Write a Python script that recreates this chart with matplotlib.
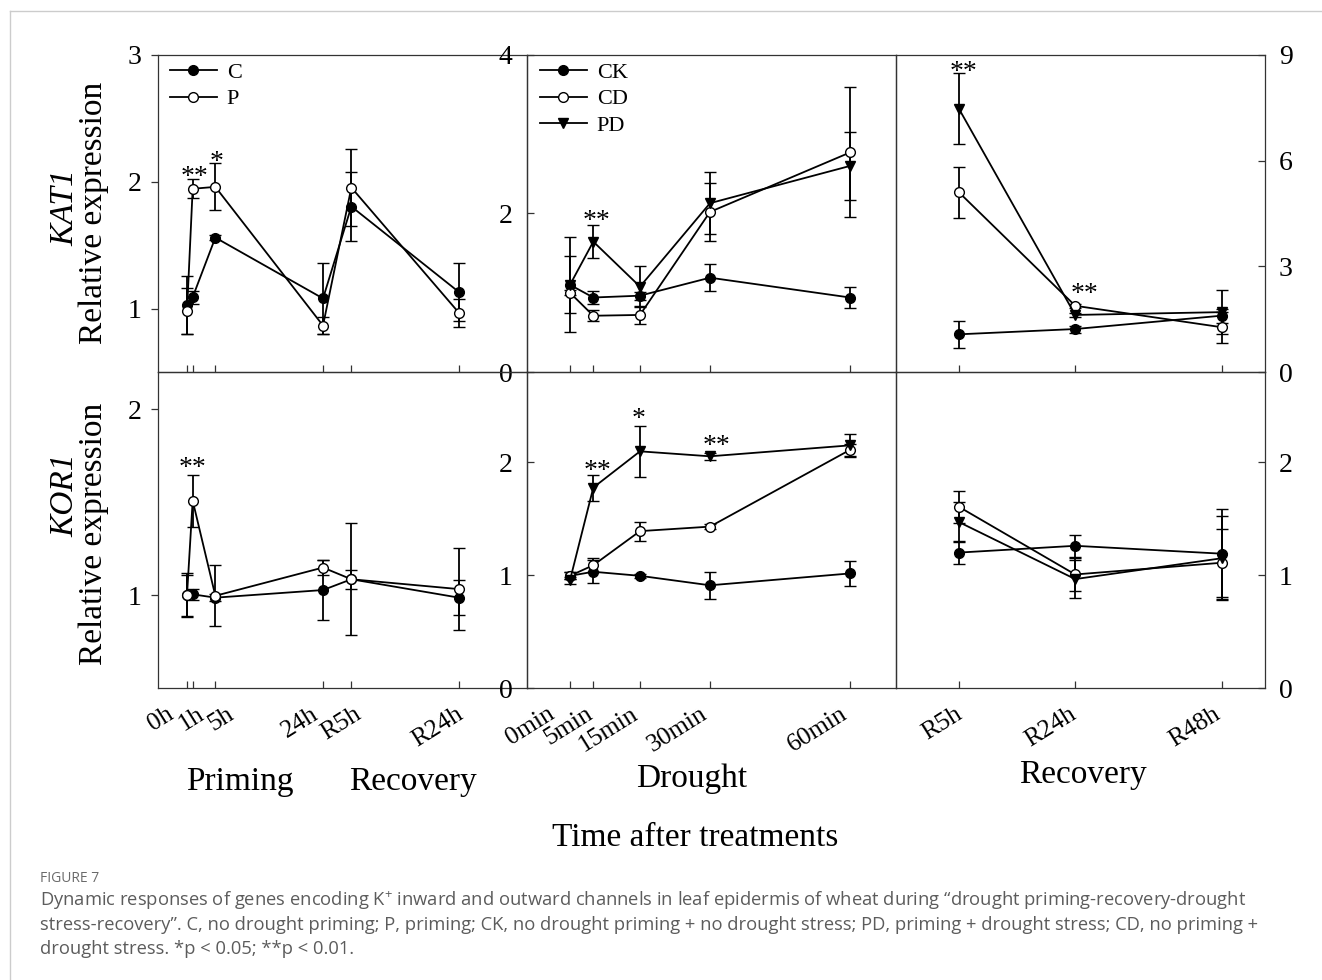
import matplotlib
matplotlib.use('Agg')
import matplotlib.pyplot as plt
from matplotlib.lines import Line2D
import matplotlib.transforms as mtransforms

plt.rcParams['font.family'] = ['Liberation Serif', 'DejaVu Serif']
plt.rcParams['mathtext.fontset'] = 'custom'
plt.rcParams['mathtext.rm'] = 'Open Sans'
plt.rcParams['mathtext.it'] = 'Open Sans:italic'

# ---------------- data ----------------
prime_x = [0, 1, 5, 24, 29, 48]
prime_labels = ['0h', '1h', '5h', '24h', 'R5h', 'R24h']
drought_x = [0, 5, 15, 30, 60]
drought_labels = ['0min', '5min', '15min', '30min', '60min']
recov_x = [5, 24, 48]
recov_labels = ['R5h', 'R24h', 'R48h']

# KAT1 - priming / recovery
kat1_C = [1.03, 1.09, 1.56, 1.08, 1.805, 1.13]
kat1_C_err = [0.23, 0.05, 0.02, 0.28, 0.27, 0.23]
kat1_P = [0.98, 1.945, 1.96, 0.866, 1.955, 0.966]
kat1_P_err = [0.18, 0.075, 0.185, 0.07, 0.30, 0.11]
# KAT1 - drought
kat1_dr_CK = [1.10, 0.94, 0.963, 1.19, 0.94]
kat1_dr_CK_err = [0.36, 0.08, 0.05, 0.17, 0.13]
kat1_dr_CD = [1.00, 0.71, 0.72, 2.02, 2.77]
kat1_dr_CD_err = [0.03, 0.07, 0.11, 0.37, 0.82]
kat1_dr_PD = [1.10, 1.645, 1.077, 2.13, 2.60]
kat1_dr_PD_err = [0.60, 0.21, 0.26, 0.39, 0.43]
# KAT1 - recovery
kat1_rc_CK = [1.07, 1.22, 1.60]
kat1_rc_CK_err = [0.39, 0.10, 0.20]
kat1_rc_CD = [5.10, 1.88, 1.27]
kat1_rc_CD_err = [0.73, 0.06, 0.44]
kat1_rc_PD = [7.47, 1.62, 1.70]
kat1_rc_PD_err = [1.01, 0.06, 0.63]

# KOR1 - priming / recovery
kor1_C = [1.00, 1.004, 0.986, 1.027, 1.085, 0.986]
kor1_C_err = [0.12, 0.03, 0.02, 0.16, 0.05, 0.095]
kor1_P = [1.00, 1.508, 0.996, 1.148, 1.085, 1.032]
kor1_P_err = [0.11, 0.14, 0.165, 0.04, 0.30, 0.22]
# KOR1 - drought
kor1_dr_CK = [0.994, 1.03, 0.994, 0.91, 1.015]
kor1_dr_CK_err = [0.03, 0.10, 0.02, 0.12, 0.11]
kor1_dr_CD = [0.994, 1.088, 1.39, 1.43, 2.11]
kor1_dr_CD_err = [0.03, 0.06, 0.085, 0.02, 0.05]
kor1_dr_PD = [0.955, 1.776, 2.097, 2.053, 2.15]
kor1_dr_PD_err = [0.03, 0.115, 0.225, 0.03, 0.10]
# KOR1 - recovery
kor1_rc_CK = [1.20, 1.26, 1.19]
kor1_rc_CK_err = [0.10, 0.10, 0.40]
kor1_rc_CD = [1.605, 1.006, 1.11]
kor1_rc_CD_err = [0.14, 0.15, 0.30]
kor1_rc_PD = [1.47, 0.965, 1.15]
kor1_rc_PD_err = [0.18, 0.17, 0.37]

# significance marks (x, y, text)
kat1_prime_sig = [(1.4, 2.087, '**'), (5.3, 2.21, '*')]
kat1_dr_sig = [(5.6, 1.98, '**')]
kat1_rc_sig = [(5.7, 8.69, '**'), (25.5, 2.39, '**')]
kor1_prime_sig = [(1.0, 1.717, '**')]
kor1_dr_sig = [(5.8, 1.98, '**'), (14.6, 2.44, '*'), (31.5, 2.20, '**')]
kor1_rc_sig = []

# ---------------- layout ----------------
W, H = 1322, 980
fig = plt.figure(figsize=(W / 100, H / 100), dpi=100)


def rect(x0, y0, x1, y1):
    return [x0 / W, 1 - y1 / H, (x1 - x0) / W, (y1 - y0) / H]


cols = [(158, 527), (527, 896), (896, 1265)]
rows = [(55, 372), (372, 688)]
xlims = [(-5.12, 60.0), (-9.21, 69.86), (-5.3, 55.03)]
xs = [prime_x, drought_x, recov_x]
xlabels = [prime_labels, drought_labels, recov_labels]
label_dx = [[-10, 15, 23, -1, 14, 8], [-11, 4, 2, 1, 1], [7, 5, 2]]
legend_left_px = [170, 540]

STYLE = {
    'C': dict(marker='o', mfc='black'),
    'P': dict(marker='o', mfc='white'),
    'CK': dict(marker='o', mfc='black'),
    'CD': dict(marker='o', mfc='white'),
    'PD': dict(marker='v', mfc='black'),
}

panels = [
    # row, col, series, ylim, yticks, side, direction, sig
    (0, 0, [('C', kat1_C, kat1_C_err), ('P', kat1_P, kat1_P_err)],
     (0.5, 3), [1, 2, 3], 'left', 'out', kat1_prime_sig),
    (0, 1, [('CK', kat1_dr_CK, kat1_dr_CK_err), ('CD', kat1_dr_CD, kat1_dr_CD_err),
            ('PD', kat1_dr_PD, kat1_dr_PD_err)],
     (0, 4), [0, 2, 4], 'left', 'in', kat1_dr_sig),
    (0, 2, [('CK', kat1_rc_CK, kat1_rc_CK_err), ('CD', kat1_rc_CD, kat1_rc_CD_err),
            ('PD', kat1_rc_PD, kat1_rc_PD_err)],
     (0, 9), [0, 3, 6, 9], 'right', 'in', kat1_rc_sig),
    (1, 0, [('C', kor1_C, kor1_C_err), ('P', kor1_P, kor1_P_err)],
     (0.5, 2.2), [1, 2], 'left', 'out', kor1_prime_sig),
    (1, 1, [('CK', kor1_dr_CK, kor1_dr_CK_err), ('CD', kor1_dr_CD, kor1_dr_CD_err),
            ('PD', kor1_dr_PD, kor1_dr_PD_err)],
     (0, 2.8), [0, 1, 2], 'left', 'in', kor1_dr_sig),
    (1, 2, [('CK', kor1_rc_CK, kor1_rc_CK_err), ('CD', kor1_rc_CD, kor1_rc_CD_err),
            ('PD', kor1_rc_PD, kor1_rc_PD_err)],
     (0, 2.8), [0, 1, 2], 'right', 'in', kor1_rc_sig),
]

SP = '#333333'
axes = {}
series_names = {}
for (r, c, series, ylim, yticks, side, direc, sig) in panels:
    x0, x1 = cols[c]
    y0, y1 = rows[r]
    ax = fig.add_axes(rect(x0, y0, x1, y1))
    ax.set_facecolor('none')
    axes[(r, c)] = ax
    series_names[(r, c)] = [s[0] for s in series]
    for sname, vals, errs in series:
        st = STYLE[sname]
        ax.errorbar(xs[c], vals, yerr=errs, color='black', lw=1.3,
                    marker=st['marker'], mfc=st['mfc'], mec='black', mew=1.0,
                    ms=7, elinewidth=1.3, capsize=4, capthick=1.3,
                    zorder=3, clip_on=False)
    ax.set_xlim(*xlims[c])
    ax.set_ylim(*ylim)
    ax.set_xticks(xs[c])
    ax.set_xticklabels([])
    ax.set_yticks(yticks)
    ax.set_yticklabels([str(t) for t in yticks])
    ax.tick_params(axis='x', direction='in', length=5, width=0.9, color=SP,
                   bottom=True, top=False)
    if side == 'left':
        ax.tick_params(axis='y', direction=direc, length=5, width=0.9, color=SP,
                       left=True, right=False, labelleft=True, labelright=False,
                       labelsize=20, pad=7 if direc == 'out' else 10.5)
    else:
        ax.tick_params(axis='y', direction=direc, length=5, width=0.9, color=SP,
                       left=False, right=True, labelleft=False, labelright=True,
                       labelsize=20, pad=10)
    for s in ax.spines.values():
        s.set_color(SP)
        s.set_linewidth(0.9)
    # significance marks
    off = mtransforms.ScaledTranslation(0, -9.6 / 72, fig.dpi_scale_trans)
    for (sx, sy, stxt) in sig:
        ax.text(sx, sy, stxt, fontsize=20, ha='center', va='baseline',
                transform=ax.transData + off, zorder=5)
    # x tick labels for bottom row
    if r == 1:
        bt = mtransforms.blended_transform_factory(ax.transData, ax.transAxes)
        for xv, lab, dx in zip(xs[c], xlabels[c], label_dx[c]):
            o = mtransforms.ScaledTranslation(dx / 100, -15 / 100, fig.dpi_scale_trans)
            ax.text(xv, 0, lab, fontsize=18.5, rotation=32, ha='right', va='top',
                    rotation_mode='default', transform=bt + o)

# legends (marker + line only, as in the reference)
for key, lx in zip([(0, 0), (0, 1)], legend_left_px):
    ax = axes[key]
    c0, c1 = cols[key[1]]
    handles = [Line2D([], [], color='black', lw=1.3, marker=STYLE[n]['marker'],
                      mfc=STYLE[n]['mfc'], mec='black', ms=7) for n in series_names[key]]
    ax.legend(handles, series_names[key], loc='upper left',
              bbox_to_anchor=((lx - c0) / (c1 - c0), 1 - 7 / 317),
              frameon=False, fontsize=16, handlelength=2.1, handletextpad=0.45,
              labelspacing=0.28, borderpad=0, borderaxespad=0)

# y labels
fig.text(65 / W, 1 - 208 / H, 'KAT1', rotation=90, ha='center', va='center',
         fontsize=24, style='italic')
fig.text(94 / W, 1 - 213 / H, 'Relative expression', rotation=90, ha='center',
         va='center', fontsize=24)
fig.text(65 / W, 1 - 495 / H, 'KOR1', rotation=90, ha='center', va='center',
         fontsize=24, style='italic')
fig.text(94 / W, 1 - 534 / H, 'Relative expression', rotation=90, ha='center',
         va='center', fontsize=24)

# group labels
fig.text(240 / W, 1 - 790 / H, 'Priming', ha='center', va='baseline', fontsize=24)
fig.text(413 / W, 1 - 790 / H, 'Recovery', ha='center', va='baseline', fontsize=24)
fig.text(692 / W, 1 - 787 / H, 'Drought', ha='center', va='baseline', fontsize=24)
fig.text(1083 / W, 1 - 783 / H, 'Recovery', ha='center', va='baseline', fontsize=24)
fig.text(695 / W, 1 - 846 / H, 'Time after treatments', ha='center', va='baseline',
         fontsize=24)

# caption
cap_font = ['Open Sans', 'DejaVu Sans']
fig.text(40 / W, 1 - 878 / H, 'FIGURE 7', ha='left', va='center', fontsize=10,
         color='#6a6a6a', family=cap_font)
cap_lines = [
    'Dynamic responses of genes encoding K$^{+}$ inward and outward channels in leaf epidermis of wheat during \u201cdrought priming-recovery-drought',
    'stress-recovery\u201d. C, no drought priming; P, priming; CK, no drought priming + no drought stress; PD, priming + drought stress; CD, no priming +',
    'drought stress. *p < 0.05; **p < 0.01.',
]
for i, line in enumerate(cap_lines):
    fig.text(40 / W, 1 - (901 + 24 * i) / H, line, ha='left', va='center',
             fontsize=13.2, color='#5c5c5c', family=cap_font)

# card border
fig.add_artist(Line2D([10 / W, 1], [1 - 11 / H, 1 - 11 / H], transform=fig.transFigure,
                      color='#cccccc', lw=1))
fig.add_artist(Line2D([10 / W, 10 / W], [0, 1 - 11 / H], transform=fig.transFigure,
                      color='#cccccc', lw=1))

fig.savefig('out.png', dpi=100)
